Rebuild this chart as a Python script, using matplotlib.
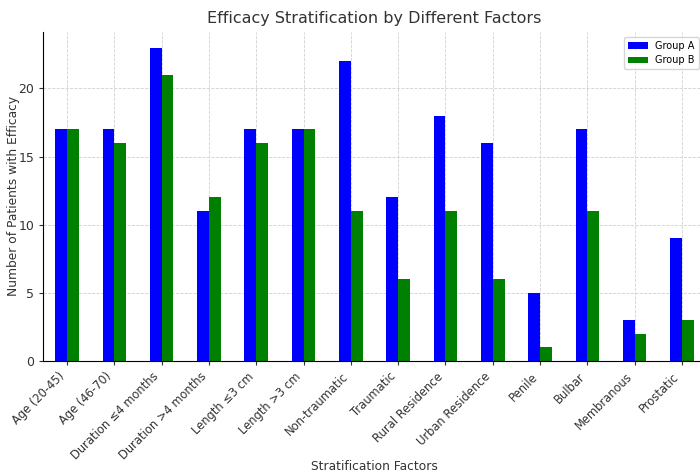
import numpy as np
import matplotlib
matplotlib.use("Agg")
import matplotlib.pyplot as plt

categories = ["Age (20-45)", "Age (46-70)", "Duration ≤4 months", "Duration >4 months",
              "Length ≤3 cm", "Length >3 cm", "Non-traumatic", "Traumatic",
              "Rural Residence", "Urban Residence", "Penile", "Bulbar",
              "Membranous", "Prostatic"]
group_a = [17, 17, 23, 11, 17, 17, 22, 12, 18, 16, 5, 17, 3, 9]
group_b = [17, 16, 21, 12, 16, 17, 11, 6, 11, 6, 1, 11, 2, 3]

txt = "#333333"
plt.rcParams["font.size"] = 8.8
fig = plt.figure(figsize=(7, 4.75), dpi=100)
ax = fig.add_axes([0.062, 0.24, 0.946, 0.693])

x = np.arange(len(categories))
w = 0.25
ax.bar(x - w / 2, group_a, w, color="blue", label="Group A", zorder=2)
ax.bar(x + w / 2, group_b, w, color="green", label="Group B", zorder=2)

ax.set_xlim(-0.5, len(categories) - 0.5)
ax.set_ylim(0, max(group_a) * 1.05)
ax.set_xticks(x)
ax.set_xticklabels(categories, rotation=45, ha="right", color=txt)
ax.tick_params(axis="x", colors=txt, labelsize=8.3, length=3)
ax.tick_params(axis="y", colors=txt, labelsize=9, length=3)
ax.grid(True, linestyle="--", color="#d0d0d0", linewidth=0.6, zorder=0)

ax.set_title("Efficacy Stratification by Different Factors", fontsize=11.5, color=txt)
ax.set_xlabel("Stratification Factors", color=txt, fontsize=8.8)
ax.xaxis.set_label_coords(0.5, -0.302)
ax.set_ylabel("Number of Patients with Efficacy", color=txt, fontsize=8.8)
ax.yaxis.set_label_coords(-0.036, 0.5)
ax.spines["top"].set_visible(False)
ax.spines["right"].set_visible(False)
ax.legend(loc="upper right", fontsize=7, bbox_to_anchor=(0.997, 1.0))

fig.savefig("out.png", dpi=100)
